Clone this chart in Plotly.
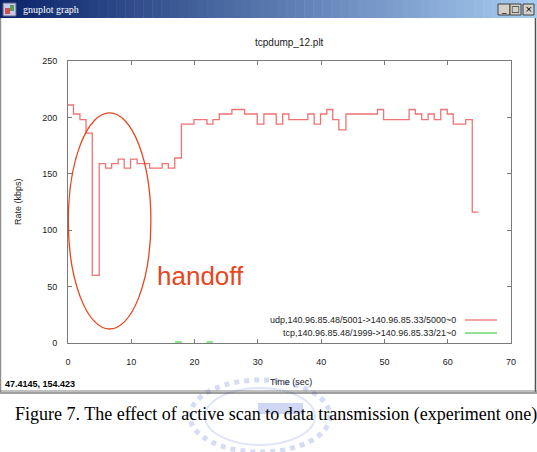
import plotly.graph_objects as go

# ---------------- data ----------------
udp_time = [0, 0.86, 1.89, 2.85, 3.84, 4.93, 5.94, 6.89, 7.93, 8.88, 9.88, 10.93, 11.88, 12.9,
            13.9, 14.87, 15.85, 16.87, 17.92, 18.9, 19.9, 20.95, 21.96, 22.9, 23.9, 24.9, 25.9,
            26.9, 27.9, 28.9, 29.9, 30.95, 31.9, 32.9, 33.92, 34.9, 35.9, 36.9, 37.9, 38.9,
            39.9, 40.9, 41.83, 42.8, 43.92, 44.9, 45.9, 46.9, 47.9, 48.9, 49.87, 50.9, 51.9,
            52.9, 53.9, 54.87, 55.9, 56.9, 57.87, 58.9, 59.92, 60.87, 61.86, 62.85, 63.88, 64.85]
udp_rate = [211, 203, 198, 186, 60, 159, 155, 159, 163, 155, 163, 159, 159,
            155, 155, 159, 155, 164, 194, 194, 198, 198, 194, 198, 203, 203, 207,
            207, 203, 203, 194, 203, 203, 194, 203, 198, 198, 198, 203, 194,
            203, 207, 198, 189, 203, 203, 203, 203, 203, 207, 198, 198, 198,
            198, 207, 203, 198, 203, 198, 207, 203, 194, 194, 198, 116, 116]

tcp_time = [16.9, 18.0, None, 21.9, 22.9]
tcp_rate = [0.8, 0.8, None, 0.8, 0.8]

series_names = ["udp,140.96.85.48/5001->140.96.85.33/5000~0",
                "tcp,140.96.85.48/1999->140.96.85.33/21~0"]
x_ticks = [0, 10, 20, 30, 40, 50, 60, 70]
y_ticks = [0, 50, 100, 150, 200, 250]

plot_title = "tcpdump_12.plt"
x_title = "Time (sec)"
y_title = "Rate (kbps)"
window_title = "gnuplot graph"
status_text = "47.4145, 154.423"
caption = "Figure 7. The effect of active scan to data transmission (experiment one)"
note_text = "handoff"

# ---------------- layout geometry (pixels) ----------------
W, H = 537, 452
L, R, T, B = 68, 511, 61, 343
def px(x):
    return (x - L) / (R - L)
def py(y):
    return (B - y) / (B - T)

RED = "#f07272"
GREEN = "#92e292"
NOTE = "#e8461e"
AXC = "#7a7a7a"
FONT = "Liberation Sans"

fig = go.Figure()
fig.add_trace(go.Scatter(x=udp_time, y=udp_rate, mode="lines", line_shape="hv",
                         line=dict(color=RED, width=1.3), name=series_names[0],
                         showlegend=False, hoverinfo="skip"))
fig.add_trace(go.Scatter(x=tcp_time, y=tcp_rate, mode="lines",
                         line=dict(color=GREEN, width=2.2), name=series_names[1],
                         showlegend=False, hoverinfo="skip", connectgaps=False))

shapes = []
annotations = []

# title bar gradient
n = 60
c0 = (10, 36, 106)
c1 = (166, 202, 240)
for i in range(n):
    f = i / (n - 1)
    col = "rgb(%d,%d,%d)" % tuple(round(c0[k] + (c1[k] - c0[k]) * f) for k in range(3))
    shapes.append(dict(type="rect", xref="paper", yref="paper",
                       x0=px(W * i / n), x1=px(W * (i + 1) / n + 0.5),
                       y0=py(18), y1=py(0), fillcolor=col, line=dict(width=0), layer="below"))
# icon
shapes.append(dict(type="rect", xref="paper", yref="paper", x0=px(3), x1=px(16), y0=py(16), y1=py(3),
                   fillcolor="#c8c8e8", line=dict(color="#606080", width=1)))
shapes.append(dict(type="rect", xref="paper", yref="paper", x0=px(5), x1=px(10), y0=py(14), y1=py(8),
                   fillcolor="#d05050", line=dict(width=0)))
shapes.append(dict(type="rect", xref="paper", yref="paper", x0=px(10), x1=px(14), y0=py(11), y1=py(5),
                   fillcolor="#50a050", line=dict(width=0)))
annotations.append(dict(text=window_title, xref="paper", yref="paper", x=px(21), y=py(9.5),
                        xanchor="left", yanchor="middle", showarrow=False,
                        font=dict(family="Liberation Serif", size=10, color="white")))
# buttons
for (bx0, bx1, glyph) in [(498, 510, "_"), (510, 521, "□"), (523, 534, "×")]:
    shapes.append(dict(type="rect", xref="paper", yref="paper", x0=px(bx0), x1=px(bx1),
                       y0=py(15), y1=py(4), fillcolor="#d4d0c8", line=dict(color="#404040", width=1)))
    annotations.append(dict(text=glyph, xref="paper", yref="paper", x=px((bx0 + bx1) / 2), y=py(9.5),
                            xanchor="center", yanchor="middle", showarrow=False,
                            font=dict(family="DejaVu Sans", size=9, color="black")))

# window borders
shapes.append(dict(type="line", xref="paper", yref="paper", x0=px(0.5), x1=px(0.5), y0=py(392), y1=py(18),
                   line=dict(color="#909090", width=1.5)))
shapes.append(dict(type="line", xref="paper", yref="paper", x0=px(535.5), x1=px(535.5), y0=py(392), y1=py(18),
                   line=dict(color="#505050", width=1.5)))
shapes.append(dict(type="line", xref="paper", yref="paper", x0=px(0), x1=px(537), y0=py(391), y1=py(391),
                   line=dict(color="#808080", width=1)))
shapes.append(dict(type="line", xref="paper", yref="paper", x0=px(0), x1=px(537), y0=py(393), y1=py(393),
                   line=dict(color="#404040", width=1.2)))

# faint watermark seal behind the caption (shapes only)
shapes.append(dict(type="circle", xref="paper", yref="paper", x0=px(190), x1=px(330), y0=py(452), y1=py(380),
                   line=dict(color="#d6dcf6", width=5, dash="dot"), layer="below"))
shapes.append(dict(type="circle", xref="paper", yref="paper", x0=px(205), x1=px(315), y0=py(445), y1=py(388),
                   line=dict(color="#dfe4f8", width=2), layer="below"))
shapes.append(dict(type="rect", xref="paper", yref="paper", x0=px(258), x1=px(303), y0=py(414), y1=py(403),
                   fillcolor="#d0d7f4", line=dict(width=0), layer="below"))

# ellipse annotation & handoff text
shapes.append(dict(type="circle", xref="x", yref="y", x0=0.05, x1=13.1, y0=12.4, y1=204,
                   line=dict(color=NOTE, width=1.3)))
annotations.append(dict(text=note_text, xref="x", yref="y", x=21.0, y=59.5, showarrow=False,
                        xanchor="center", yanchor="middle",
                        font=dict(family=FONT, size=26, color=NOTE)))

# legend (gnuplot style: right-aligned text, sample to the right)
for i, (name, col, yy) in enumerate([(series_names[0], RED, 320), (series_names[1], GREEN, 333)]):
    annotations.append(dict(text=name, xref="paper", yref="paper", x=px(458), y=py(yy),
                            xanchor="right", yanchor="middle", showarrow=False,
                            font=dict(family=FONT, size=9, color="#222222")))
    shapes.append(dict(type="line", xref="paper", yref="paper", x0=px(465), x1=px(497),
                       y0=py(yy), y1=py(yy), line=dict(color=col, width=1.3 if i == 0 else 2)))

# titles
annotations.append(dict(text=plot_title, xref="paper", yref="paper", x=px(289), y=py(42),
                        xanchor="center", yanchor="middle", showarrow=False,
                        font=dict(family=FONT, size=10, color="#222222")))
annotations.append(dict(text=x_title, xref="paper", yref="paper", x=px(291), y=py(382),
                        xanchor="center", yanchor="middle", showarrow=False,
                        font=dict(family=FONT, size=9, color="#222222")))
annotations.append(dict(text=y_title, xref="paper", yref="paper", x=px(18), y=py(202),
                        xanchor="center", yanchor="middle", showarrow=False, textangle=-90,
                        font=dict(family=FONT, size=9, color="#222222")))
annotations.append(dict(text=status_text, xref="paper", yref="paper", x=px(3), y=py(384),
                        xanchor="left", yanchor="middle", showarrow=False,
                        font=dict(family=FONT, size=9, color="black", weight="bold")))
# caption
annotations.append(dict(text=caption, xref="paper", yref="paper", x=px(276), y=py(414),
                        xanchor="center", yanchor="middle", showarrow=False,
                        font=dict(family="Liberation Serif", size=18, color="black")))

axis_common = dict(showline=True, linecolor=AXC, linewidth=1, mirror="ticks", ticks="inside",
                   ticklen=4, tickcolor=AXC, showgrid=False, zeroline=False,
                   tickfont=dict(family=FONT, size=9, color="#222222"), fixedrange=True)
fig.update_layout(
    width=W, height=H, margin=dict(l=L, r=W - R, t=T, b=H - B, autoexpand=False),
    paper_bgcolor="white", plot_bgcolor="white", showlegend=False,
    xaxis=dict(range=[0, 70], tickvals=x_ticks, ticklabelstandoff=10, **axis_common),
    yaxis=dict(range=[0, 250], tickvals=y_ticks, ticklabelstandoff=8, **axis_common),
    shapes=shapes, annotations=annotations,
)
fig.write_html("out.html", config={"displayModeBar": False})
